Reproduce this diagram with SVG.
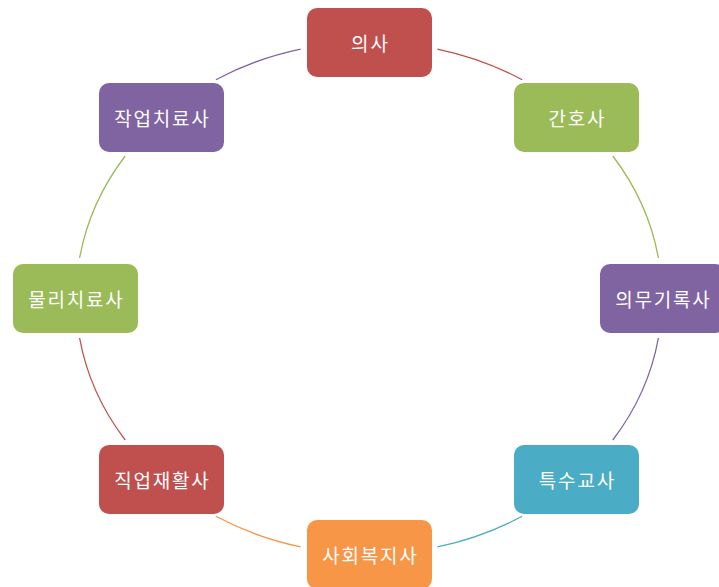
<svg xmlns="http://www.w3.org/2000/svg" width="719" height="587" viewBox="0 0 719 587">
<style>
.box{stroke:none}
.t{font-family:"Noto Sans CJK KR","Noto Sans",sans-serif;font-size:19px;letter-spacing:1.8px;fill:#ffffff;text-anchor:middle;dominant-baseline:central}
.arc{fill:none;stroke-width:1.3}
.red{fill:#C0504D}.green{fill:#9BBB59}.purple{fill:#8064A2}.teal{fill:#4BACC6}.orange{fill:#F79646}
</style>
<rect width="719" height="587" fill="#ffffff"/>
<g id="connectors">
<path class="arc" stroke="#C0504D" d="M437.4,49.1 A293,256 0 0 1 522.1,79.7"/>
<path class="arc" stroke="#9BBB59" d="M612.8,156 A293,256 0 0 1 658.4,258"/>
<path class="arc" stroke="#8064A2" d="M658.4,338 A293,256 0 0 1 612.8,440"/>
<path class="arc" stroke="#4BACC6" d="M522.1,516.3 A293,256 0 0 1 437.4,546.9"/>
<path class="arc" stroke="#F79646" d="M300.6,546.9 A293,256 0 0 1 215.9,516.3"/>
<path class="arc" stroke="#C0504D" d="M125.2,440 A293,256 0 0 1 79.6,338"/>
<path class="arc" stroke="#9BBB59" d="M79.6,258 A293,256 0 0 1 125.2,156"/>
<path class="arc" stroke="#8064A2" d="M215.9,79.7 A293,256 0 0 1 300.6,49.1"/>
</g>
<g id="n1"><rect class="box red" x="307" y="8" width="125" height="69" rx="10"/><text class="t" x="370.4" y="42.5">의사</text></g>
<g id="n2"><rect class="box green" x="514" y="83" width="125" height="69" rx="10"/><text class="t" x="577.4" y="117.5">간호사</text></g>
<g id="n3"><rect class="box purple" x="600" y="264" width="125" height="69" rx="10"/><text class="t" x="663.4" y="298.5">의무기록사</text></g>
<g id="n4"><rect class="box teal" x="514" y="445" width="125" height="69" rx="10"/><text class="t" x="577.4" y="479.5">특수교사</text></g>
<g id="n5"><rect class="box orange" x="307" y="520" width="125" height="69" rx="10"/><text class="t" x="370.4" y="554.5">사회복지사</text></g>
<g id="n6"><rect class="box red" x="99" y="445" width="125" height="69" rx="10"/><text class="t" x="162.4" y="479.5">직업재활사</text></g>
<g id="n7"><rect class="box green" x="13" y="264" width="125" height="69" rx="10"/><text class="t" x="76.4" y="298.5">물리치료사</text></g>
<g id="n8"><rect class="box purple" x="99" y="83" width="125" height="69" rx="10"/><text class="t" x="162.4" y="117.5">작업치료사</text></g>
</svg>
